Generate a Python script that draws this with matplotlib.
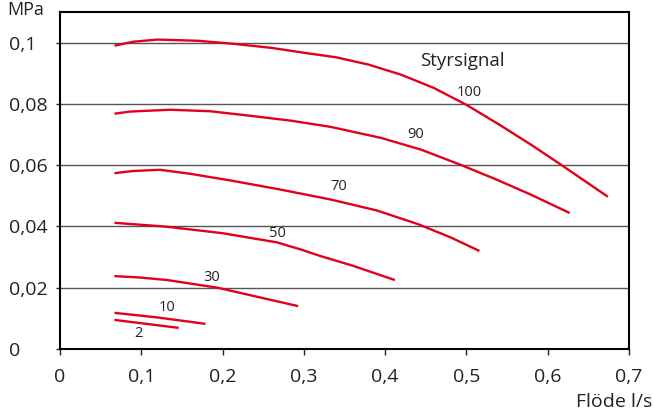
import matplotlib
matplotlib.use("Agg")
import matplotlib.pyplot as plt

plt.rcParams['font.family'] = ['Open Sans', 'DejaVu Sans']

# flow (l/s) and pressure (MPa) per control signal
flow_100 = [0.067, 0.09, 0.12, 0.17, 0.214, 0.26, 0.30, 0.34, 0.38, 0.42, 0.46, 0.50, 0.54, 0.58, 0.62, 0.674]
p_100 = [0.0990, 0.1003, 0.1010, 0.1006, 0.0996, 0.0983, 0.0967, 0.0952, 0.0928, 0.0895,
         0.0852, 0.0797, 0.0733, 0.0666, 0.0595, 0.0497]

flow_90 = [0.067, 0.086, 0.136, 0.185, 0.235, 0.285, 0.333, 0.395, 0.445, 0.494, 0.537, 0.58, 0.627]
p_90 = [0.0768, 0.0775, 0.0781, 0.0776, 0.0761, 0.0745, 0.0725, 0.0689, 0.0650, 0.0600,
        0.0553, 0.0503, 0.0444]

flow_70 = [0.067, 0.09, 0.123, 0.16, 0.21, 0.27, 0.333, 0.39, 0.44, 0.48, 0.516]
p_70 = [0.0574, 0.0581, 0.0585, 0.0572, 0.0550, 0.0521, 0.0488, 0.0452, 0.0408, 0.0365, 0.0320]

flow_50 = [0.067, 0.132, 0.20, 0.267, 0.296, 0.321, 0.36, 0.412]
p_50 = [0.0412, 0.0399, 0.0378, 0.0348, 0.0325, 0.0303, 0.0272, 0.0225]

flow_30 = [0.067, 0.10, 0.132, 0.194, 0.24, 0.293]
p_30 = [0.0238, 0.0233, 0.0225, 0.0200, 0.0172, 0.0140]

flow_10 = [0.067, 0.12, 0.179]
p_10 = [0.0118, 0.0103, 0.0082]

flow_2 = [0.067, 0.146]
p_2 = [0.0095, 0.0069]

signals = ["100", "90", "70", "50", "30", "10", "2"]
flows = [flow_100, flow_90, flow_70, flow_50, flow_30, flow_10, flow_2]
pressures = [p_100, p_90, p_70, p_50, p_30, p_10, p_2]

x_ticks = [0, 0.1, 0.2, 0.3, 0.4, 0.5, 0.6, 0.7]
x_labels = ["0", "0,1", "0,2", "0,3", "0,4", "0,5", "0,6", "0,7"]
y_ticks = [0, 0.02, 0.04, 0.06, 0.08, 0.1]
y_labels = ["0", "0,02", "0,04", "0,06", "0,08", "0,1"]

# where the curve labels sit
label_pos = [(0.504, 0.0837), (0.437, 0.070), (0.343, 0.053), (0.267, 0.0376),
             (0.187, 0.0235), (0.132, 0.0134), (0.096, 0.0052)]

W, H = 654, 412
fig = plt.figure(figsize=(W / 100, H / 100), dpi=100)
ax = fig.add_axes([60 / W, 1 - 349 / H, (629 - 60) / W, (349 - 12) / H])

red = "#e2001a"
for f, p in zip(flows, pressures):
    ax.plot(f, p, color=red, lw=1.7, solid_capstyle='butt', solid_joinstyle='round')

for s, (lx, ly) in zip(signals, label_pos):
    ax.text(lx, ly, s, fontsize=10.5, ha='center', va='center', color='#222')
ax.text(0.495, 0.094, "Styrsignal", fontsize=13.5, ha='center', va='center', color='#222')

ax.set_xlim(0, 0.7)
ax.set_ylim(0, 0.11)
ax.set_xticks(x_ticks)
ax.set_xticklabels(x_labels)
ax.set_yticks(y_ticks)
ax.set_yticklabels(y_labels)
for lab in ax.get_yticklabels():
    lab.set_horizontalalignment('left')

ax.tick_params(axis='x', length=4, width=1, pad=10, labelsize=14, colors='#222')
ax.tick_params(axis='y', length=3, width=1, pad=34, labelsize=14, colors='#222')
ax.grid(axis='y', color='#555', lw=1)
ax.set_axisbelow(True)
for sp in ax.spines.values():
    sp.set_linewidth(1.5)
    sp.set_color('black')

fig.text(7 / W, 1 - 1 / H, "MPa", fontsize=13, ha='left', va='top', color='#222')
fig.text(652 / W, 1 - 407 / H, "Flöde l/s", fontsize=14, ha='right', va='baseline', color='#222')

fig.savefig("out.png", dpi=100)
